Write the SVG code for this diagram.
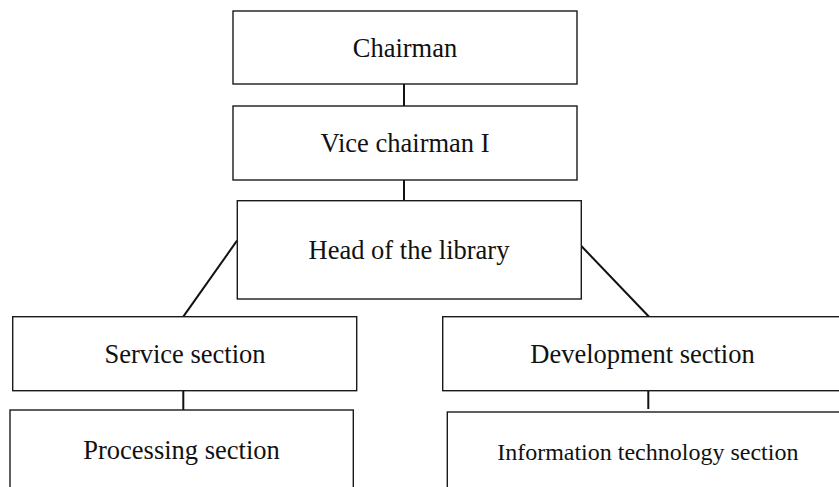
<svg xmlns="http://www.w3.org/2000/svg" width="839" height="487" viewBox="0 0 839 487">
<style>
.box{fill:#fff;stroke:#1a1a1a;stroke-width:1.4}
.lbl{font-family:"Liberation Serif","Times New Roman",serif;font-size:26.5px;fill:#111;text-anchor:middle}
.sm{font-size:24px}
.con{stroke:#111;stroke-width:2;fill:none}
</style>
<rect width="839" height="487" fill="#fff"/>
<g id="connectors">
<line class="con" x1="404" y1="84" x2="404" y2="106"/>
<line class="con" x1="404" y1="180" x2="404" y2="201"/>
<line class="con" x1="237" y1="240.7" x2="183.3" y2="316.7"/>
<line class="con" x1="581.3" y1="246" x2="649" y2="316.7"/>
<line class="con" x1="183.3" y1="391" x2="183.3" y2="410"/>
<line class="con" x1="648.3" y1="390.7" x2="648.3" y2="409"/>
</g>
<g id="chairman"><rect class="box" x="233" y="11" width="344" height="73"/><text class="lbl" x="405" y="57">Chairman</text></g>
<g id="vice"><rect class="box" x="233" y="106" width="344" height="74"/><text class="lbl" x="405" y="152">Vice chairman I</text></g>
<g id="head"><rect class="box" x="237.3" y="200.7" width="344" height="98.3"/><text class="lbl" x="409" y="258.5">Head of the library</text></g>
<g id="service"><rect class="box" x="12.7" y="316.7" width="344" height="74"/><text class="lbl" x="185" y="362.5">Service section</text></g>
<g id="processing"><rect class="box" x="10" y="410" width="343.3" height="100"/><text class="lbl" x="181.5" y="459">Processing section</text></g>
<g id="development"><rect class="box" x="442.7" y="316.7" width="400" height="74"/><text class="lbl" x="642.5" y="362.5">Development section</text></g>
<g id="it"><rect class="box" x="447.3" y="412" width="400" height="100"/><text class="lbl sm" x="647.8" y="460">Information technology section</text></g>
</svg>
